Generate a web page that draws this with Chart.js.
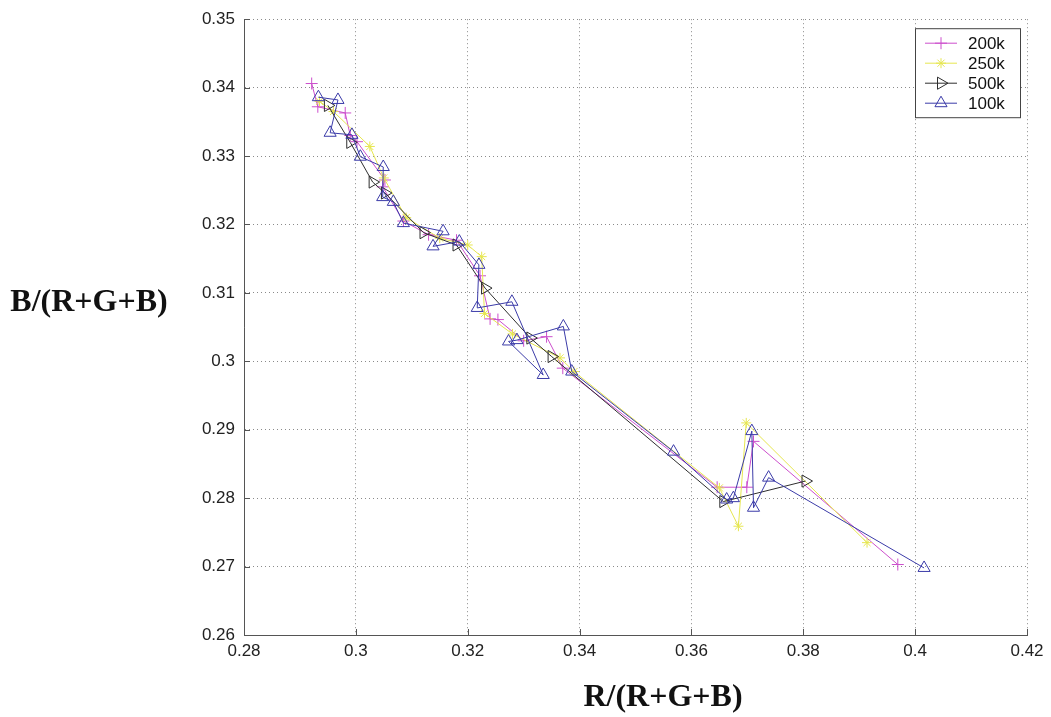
<!DOCTYPE html>
<html>
<head>
<meta charset="utf-8">
<script src="https://cdn.jsdelivr.net/npm/chart.js@4.4.0/dist/chart.umd.min.js"></script>
<style>
  body { margin: 0; background: #fff; }
  #wrap { position: relative; width: 1051px; height: 717px; }
  .axis-title { position: absolute; font: bold 32px "Liberation Serif", "Times New Roman", serif; color: #111; text-align: center; line-height: 36px; white-space: nowrap; }
</style>
</head>
<body>
<div id="wrap">
  <canvas id="myChart" width="1051" height="717"></canvas>
  <div class="axis-title" style="left:0;top:282px;width:178px;">B/(R+G+B)</div>
  <div class="axis-title" style="left:553px;top:677px;width:220px;">R/(R+G+B)</div>
</div>
<script>
// series labels (legend order)
const seriesLabels = ['200k', '250k', '500k', '100k'];

// 200k
const x200k = [0.2921, 0.2932, 0.2981, 0.2990, 0.3002, 0.3052, 0.3048, 0.3085, 0.3130, 0.3180, 0.3222, 0.3240, 0.3254, 0.3300, 0.3341, 0.3370, 0.3646, 0.3699, 0.3711, 0.3969];
const y200k = [0.3406, 0.3372, 0.3363, 0.3330, 0.3321, 0.3265, 0.3255, 0.3205, 0.3185, 0.3177, 0.3125, 0.3062, 0.3061, 0.3030, 0.3036, 0.2990, 0.2816, 0.2816, 0.2883, 0.2703];

// 250k
const x250k = [0.2935, 0.2960, 0.3025, 0.3050, 0.3090, 0.3150, 0.3200, 0.3225, 0.3230, 0.3280, 0.3365, 0.3390, 0.3650, 0.3684, 0.3698, 0.3914];
const y250k = [0.3380, 0.3365, 0.3314, 0.3268, 0.3210, 0.3180, 0.3170, 0.3153, 0.3070, 0.3040, 0.3005, 0.2985, 0.2815, 0.2759, 0.2910, 0.2735];

// 500k
const x500k = [0.2950, 0.2990, 0.3030, 0.3052, 0.3121, 0.3180, 0.3231, 0.3312, 0.3350, 0.3657, 0.3804];
const y500k = [0.3374, 0.3320, 0.3262, 0.3246, 0.3188, 0.3170, 0.3107, 0.3034, 0.3007, 0.2795, 0.2825];

// 100k
const x100k = [0.2933, 0.2968, 0.2954, 0.2993, 0.3008, 0.3049, 0.3048, 0.3067, 0.3085, 0.3156, 0.3138, 0.3185, 0.3220, 0.3217, 0.3279, 0.3335, 0.3273, 0.3288, 0.3371, 0.3386, 0.3568, 0.3663, 0.3675, 0.3708, 0.3711, 0.3738, 0.4016];
const y100k = [0.3386, 0.3382, 0.3334, 0.3331, 0.3299, 0.3284, 0.3240, 0.3233, 0.3202, 0.3190, 0.3168, 0.3175, 0.3141, 0.3078, 0.3087, 0.2980, 0.3029, 0.3031, 0.3051, 0.2985, 0.2868, 0.2798, 0.2800, 0.2898, 0.2786, 0.2830, 0.2698];

// axis ranges
const xTicks = [0.28, 0.42, 0.02];
const yTicks = [0.26, 0.35, 0.01];

const toPoints = (xs, ys) => xs.map((x, i) => ({ x: x, y: ys[i] }));
const fmt = v => String(parseFloat(Number(v).toFixed(2)));

// legend drawn MATLAB style: line with marker through it
const legendBox = {
    id: 'legendBox',
    afterDraw(chart) {
        const { ctx, chartArea } = chart;
        const w = 105, h = 89;
        const left = chartArea.right - 112, top = chartArea.top + 9;
        ctx.save();
        ctx.fillStyle = '#fff';
        ctx.fillRect(left, top, w, h);
        ctx.strokeStyle = '#444';
        ctx.lineWidth = 1;
        ctx.strokeRect(left + 0.5, top + 0.5, w, h);
        chart.data.datasets.forEach((ds, i) => {
            const y = top + 15 + i * 20;
            ctx.strokeStyle = ds.borderColor;
            ctx.lineWidth = 1;
            ctx.beginPath();
            ctx.moveTo(left + 10, y);
            ctx.lineTo(left + 42, y);
            ctx.stroke();
            ctx.fillStyle = 'rgba(0,0,0,0)';
            Chart.helpers.drawPoint(ctx, {
                pointStyle: ds.pointStyle,
                rotation: ds.pointRotation || 0,
                radius: ds.pointRadius,
                borderWidth: 1
            }, left + 26, y);
            ctx.fillStyle = '#111';
            ctx.font = '17px "Liberation Sans", Arial, sans-serif';
            ctx.textBaseline = 'middle';
            ctx.fillText(ds.label, left + 53, y + 1);
        });
        ctx.restore();
    }
};

// small inward tick marks on the bottom and left axes
const innerTicks = {
    id: 'innerTicks',
    beforeDatasetsDraw(chart) {
        const { ctx, chartArea, scales: { x, y } } = chart;
        ctx.save();
        ctx.strokeStyle = '#555';
        ctx.lineWidth = 1;
        ctx.beginPath();
        x.ticks.forEach(t => {
            const px = Math.round(x.getPixelForValue(t.value)) + 0.5;
            ctx.moveTo(px, chartArea.bottom);
            ctx.lineTo(px, chartArea.bottom - 6);
        });
        y.ticks.forEach(t => {
            const py = Math.round(y.getPixelForValue(t.value)) + 0.5;
            ctx.moveTo(chartArea.left, py);
            ctx.lineTo(chartArea.left + 6, py);
        });
        ctx.stroke();
        ctx.restore();
    }
};

const tickFont = { family: '"Liberation Sans", Arial, sans-serif', size: 17 };

const ctx = document.getElementById('myChart').getContext('2d');
new Chart(ctx, {
    type: 'scatter',
    data: {
        datasets: [{
            label: seriesLabels[0],
            data: toPoints(x200k, y200k),
            borderColor: '#cc4fcc',
            pointStyle: 'cross',
            pointRadius: 6,
            order: 3
        }, {
            label: seriesLabels[1],
            data: toPoints(x250k, y250k),
            borderColor: '#e6e650',
            pointStyle: 'star',
            pointRadius: 5,
            order: 2
        }, {
            label: seriesLabels[2],
            data: toPoints(x500k, y500k),
            borderColor: '#2e2e2e',
            pointStyle: 'triangle',
            pointRotation: 90,
            pointRadius: 7,
            order: 1
        }, {
            label: seriesLabels[3],
            data: toPoints(x100k, y100k),
            borderColor: '#3b3ba8',
            pointStyle: 'triangle',
            pointRadius: 7,
            order: 0
        }].map(ds => Object.assign({
            showLine: true,
            tension: 0,
            borderWidth: 1,
            pointBorderWidth: 1,
            pointBackgroundColor: 'rgba(0,0,0,0)',
            pointBorderColor: ds.borderColor
        }, ds))
    },
    options: {
        responsive: false,
        animation: false,
        layout: { padding: { top: 19, right: 24, bottom: 52, left: 0 } },
        plugins: {
            legend: { display: false },
            tooltip: { enabled: false }
        },
        scales: {
            x: {
                type: 'linear',
                min: xTicks[0],
                max: xTicks[1],
                afterFit: s => { s.height = 30; },
                ticks: { stepSize: xTicks[2], padding: 6, color: '#222', font: tickFont, callback: fmt, maxRotation: 0 },
                grid: { color: '#8a8a8a', drawTicks: false },
                border: { display: true, color: '#555', width: 1, dash: [1, 3] }
            },
            y: {
                type: 'linear',
                min: yTicks[0],
                max: yTicks[1],
                afterFit: s => { s.width = 244; },
                ticks: { stepSize: yTicks[2], padding: 9, color: '#222', font: tickFont, callback: fmt },
                grid: { color: '#8a8a8a', drawTicks: false },
                border: { display: true, color: '#555', width: 1, dash: [1, 3] }
            }
        }
    },
    plugins: [innerTicks, legendBox]
});
</script>
</body>
</html>
